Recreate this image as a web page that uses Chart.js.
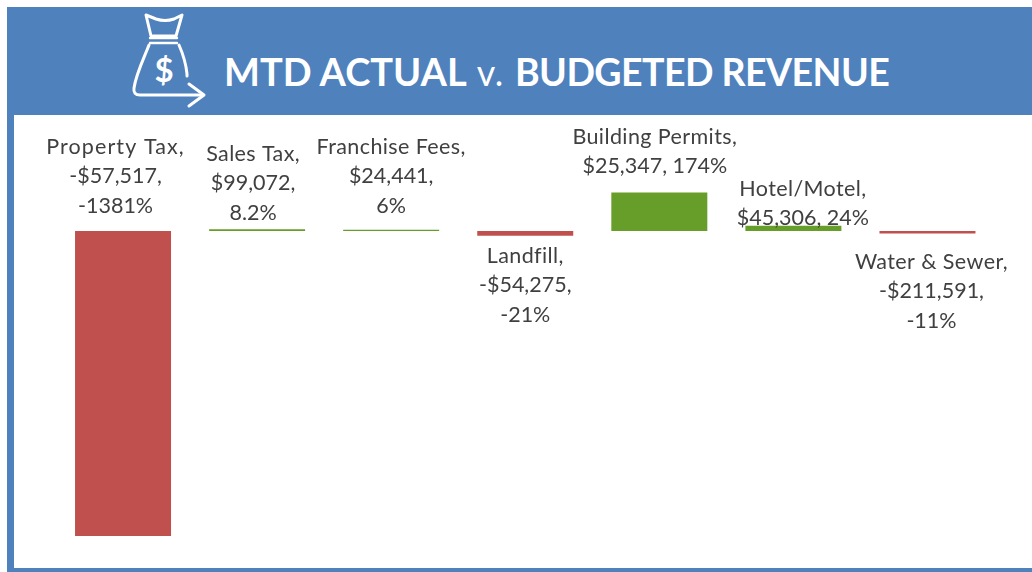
<!DOCTYPE html>
<html>
<head>
<meta charset="utf-8">
<style>
html,body{margin:0;padding:0;background:#fff;width:1032px;height:572px;overflow:hidden}
.band{position:absolute;background:#4F81BD}
#canvasWrap{position:absolute;left:0;top:0;width:1032px;height:572px}
#title{position:absolute;left:224px;top:44px;font:bold 38px Lato,Carlito,sans-serif;color:#fff;white-space:nowrap;line-height:54px}
#title .v{font-weight:normal;font-size:36px;margin-left:2px;margin-right:2px;letter-spacing:0.5px}
#title .b{font-size:37.5px;letter-spacing:-0.55px}
#icon{position:absolute;left:129px;top:10px}
</style>
<script src="https://cdn.jsdelivr.net/npm/chart.js@4"></script>
</head>
<body>
<div id="canvasWrap"><canvas id="c" width="1032" height="572"></canvas></div>
<div class="band" style="left:7px;top:7px;width:1025px;height:108px"></div>
<div class="band" style="left:7px;top:115px;width:7px;height:457px"></div>
<div class="band" style="left:7px;top:568px;width:1025px;height:4px"></div>
<svg id="icon" width="80" height="100" viewBox="0 0 80 100" fill="none" stroke="#fff" stroke-width="3" stroke-linecap="round" stroke-linejoin="round">
<path d="M17 5 L27 9 Q36 12 45 9 L53 5 L47 26 L22 26 Z"/>
<path d="M21 28 H48 M21 33 H48" stroke-width="2.4"/>
<path d="M20 35 C15 48 7 64 5 78 Q4 85 11 85 H74"/>
<path d="M50 35 C54 44 57 54 58 64 Q58 66 58 66"/>
<path d="M60 74 L75 85 L60 96"/>
<text x="35" y="72" fill="#fff" stroke="none" font-family="Lato,sans-serif" font-weight="bold" font-size="33" text-anchor="middle">$</text>
</svg>
<div id="title">MTD ACTUAL <span class="v">v.</span> <span class="b">BUDGETED REVENUE</span></div>
<script>
const categories = ["Property Tax","Sales Tax","Franchise Fees","Landfill","Building Permits","Hotel/Motel","Water & Sewer"];
const percentValues = [-1381,8.2,6,-21,174,24,-11];
const dollarValues = [-57517,99072,24441,-54275,25347,45306,-211591];

const barColors = {pos:"#669E29",neg:"#C0504D"};
// label presentation only: [dx, top of first line relative to baseline]
const labelPlacement = [[-7.5,-99],[-4,-92],[0,-99],[0,10],[-4.5,-109],[9.5,-57],[4,16]];
const joinSecondLine = [false,false,false,false,true,true,false];
const firstLineSpacing = [1.1,0.4,0.4,0.4,0.4,0.4,0.4];

function money(v){return (v<0?"-$":"$")+Math.abs(v).toLocaleString("en-US");}
function labelLines(i){
  const a=categories[i]+",", b=money(dollarValues[i])+",", c=percentValues[i]+"%";
  return joinSecondLine[i]?[a,b+" "+c]:[a,b,c];
}
const labelsPlugin={
  id:"pointLabels",
  afterDatasetsDraw(chart){
    const ctx=chart.ctx, meta=chart.getDatasetMeta(0), y0=chart.scales.y.getPixelForValue(0);
    ctx.save();
    ctx.font='21.5px Lato, Carlito, sans-serif';
    ctx.fillStyle="#404040";
    ctx.textAlign="center";
    ctx.textBaseline="middle";
    meta.data.forEach((bar,i)=>{
      const [dx,dy]=labelPlacement[i];
      labelLines(i).forEach((t,k)=>{
        ctx.letterSpacing=(k===0?firstLineSpacing[i]:0)+"px";
        ctx.fillText(t,bar.x+dx,y0+dy+15+k*29.3);
      });
    });
    ctx.restore();
  }
};
new Chart(document.getElementById("c"),{
  type:"bar",
  data:{labels:categories,datasets:[{
    data:percentValues,
    backgroundColor:percentValues.map(v=>v<0?barColors.neg:barColors.pos),
    categoryPercentage:1,
    barPercentage:0.716,
    borderWidth:0
  }]},
  options:{
    responsive:false,
    animation:false,
    layout:{padding:{left:56,right:37.5,top:120.6,bottom:12}},
    plugins:{legend:{display:false},tooltip:{enabled:false},title:{display:false}},
    scales:{
      x:{display:false},
      y:{display:false,min:-1490,max:500}
    }
  },
  plugins:[labelsPlugin]
});
</script>
</body>
</html>
